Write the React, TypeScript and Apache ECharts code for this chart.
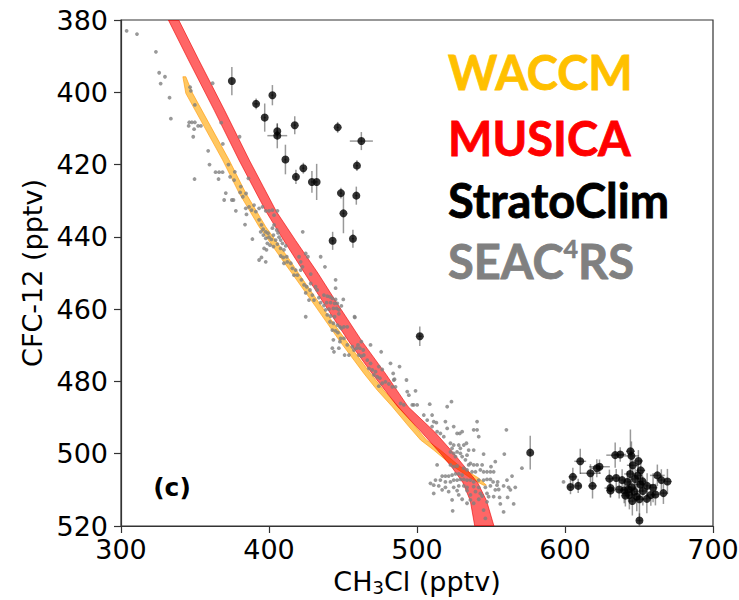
import React, { useEffect, useRef } from 'react';
import * as echarts from 'echarts';

// Axis ranges
const xMin = 300, xMax = 700, xStep = 100;
const yMin = 380, yMax = 520, yStep = 20;

// MUSICA band: CFC-12 levels with CH3Cl lower / upper edges
const musicaCFC = [380, 391, 405, 419, 426, 433, 441, 450, 459, 469, 478, 487, 494, 500, 504, 508, 513, 520];
const musicaLo = [332, 345.5, 363, 380, 389, 398, 410, 424, 438, 454, 470, 487, 503, 516, 524, 531, 536, 539];
const musicaHi = [339, 352.5, 370, 387, 396, 405, 418, 433, 447, 463, 479, 494, 512, 525, 533, 541, 547, 552];

// WACCM band
const waccmCFC = [395.7, 400.3, 409.5, 418.7, 427.9, 437.2, 446.4, 450.1, 459.3, 468.5, 477.8, 482.4, 487.0, 492.5, 496.2, 499.0, 503.6, 506.7, 508.7];
const waccmLo = [341.8, 343.8, 356.2, 368.6, 379.8, 393.3, 409.0, 415.5, 431.5, 447.2, 464.1, 473.1, 483.3, 494.5, 502.4, 511.3, 524.8, 536.1, 544.8];
const waccmHi = [343.8, 348.4, 360.7, 373.0, 384.3, 397.8, 414.0, 420.0, 435.6, 451.7, 468.6, 477.4, 487.5, 499.0, 506.4, 515.8, 529.3, 541.5, 546.9];

// StratoClim: [CH3Cl, CFC-12, CH3Cl error, CFC-12 error]
const stratoClim: number[][] = [
  [374.9, 396.9, 0, 3.9], [391.3, 403.2, 1.5, 1.5], [402.3, 400.8, 0.8, 2.8], [397.1, 407.0, 0.8, 3.9],
  [405.6, 410.8, 0.8, 2.0], [405.6, 412.0, 6.7, 3.5], [417.4, 409.1, 0.8, 2.5], [446.4, 409.7, 0.8, 1.5],
  [462.4, 413.5, 7.8, 2.5], [411.1, 418.6, 0.8, 4.1], [423.2, 421.0, 0.8, 1.5], [418.2, 423.4, 0.8, 2.0],
  [429.0, 424.8, 0.8, 3.0], [432.2, 424.8, 0.8, 5.0], [459.4, 420.3, 0.8, 1.5], [448.6, 427.9, 0.8, 1.5],
  [459.0, 428.6, 0.8, 2.5], [450.3, 433.5, 0.8, 5.5], [443.0, 441.1, 0.8, 2.5], [456.7, 440.5, 0.8, 2.5],
  [501.9, 467.5, 1.5, 2.7], [576.5, 499.7, 0.5, 4.7],
  [603.7, 509.2, 2, 2], [605.3, 506.4, 3, 2.5], [608.9, 508.9, 2, 2], [610.3, 502.1, 4, 3.5],
  [617.2, 505.4, 7, 2.5], [618.6, 508.9, 3, 3.5], [621.5, 504.0, 4, 2.5], [623.3, 503.6, 7, 2],
  [630.0, 506.9, 3, 2.5], [630.7, 509.5, 4, 2.5], [630.7, 510.2, 3, 2], [633.9, 500.4, 6, 3.5],
  [634.6, 506.7, 3, 2.5], [636.6, 509.9, 4, 2.5], [637.3, 500.2, 4, 2], [638.6, 507.3, 3, 3],
  [640.0, 510.2, 3, 3.5], [640.8, 511.6, 3, 3], [642.2, 507.8, 3, 3], [642.8, 509.9, 4, 3],
  [643.5, 511.4, 3, 4], [644.0, 505.6, 4, 3], [644.2, 499.3, 3, 6], [644.9, 500.6, 5, 4],
  [645.1, 509.3, 3, 3], [645.5, 513.1, 3, 4], [645.8, 503.2, 4, 3], [646.9, 510.5, 3, 2.5],
  [647.4, 507.0, 4, 3], [648.5, 511.9, 3, 4], [649.2, 506.0, 3, 3], [649.6, 502.0, 3, 3],
  [650.3, 512.6, 3, 5], [650.9, 508.5, 4, 3], [651.2, 504.6, 3, 3], [652.3, 507.6, 3, 3],
  [652.6, 510.3, 3, 4], [650.3, 518.5, 2, 2], [655.3, 512.5, 3, 4], [655.5, 508.9, 4, 3.5],
  [658.0, 511.4, 3, 3], [659.5, 509.4, 3, 4], [661.1, 511.3, 3, 3], [662.4, 506.0, 5, 3],
  [665.1, 507.3, 3, 3], [666.5, 510.9, 3, 3], [669.2, 507.7, 3, 3.5],
];

// SEAC4RS: [CH3Cl, CFC-12]
const seac4rs: number[][] = [
  [303.8, 383.0], [310.8, 383.9], [323.6, 388.8], [325.8, 394.6], [329.7, 395.7], [326.8, 397.6],
  [332.8, 401.5], [333.7, 407.3], [346.7, 398.6], [347.2, 399.6], [349.9, 403.5], [361.9, 397.5],
  [346.1, 408.3], [347.9, 408.3], [349.9, 408.3], [345.7, 409.3], [352.1, 409.3], [354.0, 409.3],
  [349.4, 410.2], [348.8, 412.3], [349.7, 424.0], [358.9, 416.2], [359.8, 420.0], [363.9, 422.1],
  [366.3, 422.1], [368.6, 422.1], [365.9, 424.0], [368.8, 414.3], [367.7, 408.4], [372.6, 420.0],
  [380.1, 412.3], [370.8, 427.9], [369.7, 429.8], [374.9, 429.8], [376.0, 429.8], [377.6, 432.8],
  [383.8, 436.6], [388.8, 440.6], [384.8, 433.8], [376.9, 422.0], [373.7, 423.4], [376.4, 424.3],
  [380.9, 426.1], [380.5, 427.7], [384.5, 428.0], [382.3, 428.9], [386.1, 423.8], [422.8, 438.6],
  [434.9, 445.5], [437.8, 448.3],
  [384.3, 432.1], [386.5, 431.7], [388.2, 432.6], [389.9, 431.2], [391.1, 433.0], [393.3, 432.1],
  [395.6, 431.7], [397.8, 432.8], [400.0, 432.8], [402.3, 432.6], [403.4, 434.0], [405.7, 432.8],
  [393.3, 435.3], [394.9, 436.7], [394.4, 438.6], [396.0, 437.9], [397.8, 438.6], [399.4, 439.0],
  [396.2, 439.5], [397.8, 440.4], [400.0, 440.1], [401.6, 440.7], [403.0, 439.5], [402.3, 437.6],
  [403.4, 436.7], [405.2, 438.1], [406.1, 438.9], [404.5, 440.9], [398.9, 441.8], [400.7, 442.3],
  [403.0, 442.7], [405.7, 442.0], [406.8, 440.1], [407.9, 440.9], [409.1, 441.8], [396.7, 443.2],
  [398.3, 443.6], [407.9, 443.2], [410.1, 443.6], [411.3, 442.5], [407.9, 445.3], [409.7, 445.7],
  [412.0, 445.5], [412.4, 446.9], [414.7, 447.3], [410.1, 447.3], [415.8, 448.7], [418.0, 449.2],
  [416.9, 450.6], [419.2, 450.6], [421.4, 449.2], [422.6, 448.3], [424.8, 444.6], [426.3, 445.5],
  [428.2, 450.3], [393.3, 446.4], [394.9, 445.7], [397.8, 446.9], [421.4, 446.9], [420.3, 445.5],
  [421.9, 451.9], [423.7, 453.3], [425.5, 453.8], [427.7, 454.7], [429.3, 456.1], [430.4, 457.5],
  [427.0, 457.5], [432.6, 454.7], [431.5, 453.8], [428.2, 452.9], [433.7, 456.8], [434.9, 458.2],
  [437.1, 459.0], [424.8, 455.5], [424.8, 462.1], [457.8, 462.1],
  [445.0, 454.2], [437.1, 456.1], [439.4, 456.4], [441.2, 456.6], [442.8, 457.0], [445.0, 457.3],
  [438.9, 458.2], [441.6, 458.2], [444.3, 458.4], [446.2, 458.4], [450.2, 457.3], [438.3, 460.2],
  [440.5, 460.0], [443.5, 459.8], [445.7, 459.8], [447.2, 460.2], [448.9, 459.1], [439.4, 461.6],
  [441.6, 461.9], [444.3, 462.1], [447.2, 461.3], [441.2, 463.5], [443.5, 463.9], [446.2, 464.4],
  [447.9, 464.9], [450.6, 464.9], [452.9, 464.9], [442.8, 465.8], [445.0, 466.0], [446.6, 466.5],
  [448.9, 465.3], [458.0, 462.3], [448.4, 468.1], [450.6, 468.1], [443.5, 468.5], [442.8, 470.8],
  [443.9, 471.8], [447.2, 470.8], [447.9, 469.0], [452.9, 469.9], [451.1, 472.7], [454.0, 472.7],
  [456.3, 470.4], [457.4, 471.3], [459.2, 470.8], [460.1, 469.9], [462.4, 469.0], [461.4, 470.8],
  [463.7, 471.3], [460.7, 472.7], [462.4, 473.0], [464.1, 472.7], [468.6, 469.9], [475.8, 471.8],
  [466.4, 474.1], [468.6, 475.0], [467.5, 476.4], [469.8, 476.8], [472.0, 477.3], [474.2, 475.9],
  [476.5, 476.7], [470.9, 478.2], [473.1, 478.7], [474.9, 479.1], [482.1, 475.0], [488.2, 475.9],
  [483.9, 477.8], [484.8, 479.4], [492.9, 479.6], [481.0, 480.7], [483.3, 481.5], [478.7, 480.1],
  [476.5, 480.5], [474.2, 481.3], [445.0, 451.9],
  [499.0, 482.6], [493.4, 482.8], [494.5, 483.8], [484.3, 479.6], [485.5, 481.5], [497.8, 486.5],
  [500.1, 486.5], [496.8, 486.5], [491.1, 486.5], [488.9, 486.1], [508.6, 486.3], [523.3, 485.6],
  [520.4, 487.0], [504.6, 489.3], [510.2, 489.3], [506.9, 490.7], [511.3, 491.1], [513.1, 491.4],
  [519.2, 491.1], [510.2, 492.5], [513.6, 493.9], [524.8, 492.5], [530.5, 493.9], [540.6, 491.1],
  [538.3, 493.4], [560.4, 493.4], [599.0, 507.8],
  [515.8, 494.4], [520.4, 493.0], [518.1, 495.3], [527.1, 494.4], [528.9, 494.4], [540.6, 493.4],
  [541.7, 495.3], [522.6, 497.1], [523.7, 498.5], [524.8, 497.6], [528.2, 497.6], [529.3, 498.5],
  [531.6, 497.6], [533.4, 497.1], [534.9, 499.0], [527.1, 499.5], [529.3, 499.9], [524.8, 499.9],
  [526.0, 500.8], [522.6, 499.5], [538.3, 499.0], [530.5, 500.8], [533.8, 500.4], [545.0, 500.1],
  [559.0, 500.1], [532.7, 501.7], [536.1, 502.7], [540.6, 503.1], [538.3, 503.1], [544.0, 503.1],
  [534.9, 503.1], [522.6, 503.1], [524.8, 503.6], [527.1, 503.4], [552.9, 502.2], [550.0, 503.6],
  [531.6, 504.0], [533.8, 504.5], [537.2, 505.0], [539.5, 505.0], [542.8, 504.5], [545.0, 505.0],
  [547.3, 505.0], [549.6, 505.0], [551.8, 505.0], [570.9, 504.0], [513.6, 503.1], [517.0, 506.2],
  [519.2, 506.2], [521.4, 506.2], [523.7, 505.9], [526.0, 505.6], [528.2, 505.6], [530.5, 505.9],
  [512.5, 507.3], [515.8, 507.3], [519.2, 507.8], [522.6, 507.8], [524.8, 507.3], [527.1, 507.3],
  [529.3, 507.1], [531.6, 507.1], [533.8, 507.3], [536.1, 507.3], [538.3, 507.8], [541.7, 507.3],
  [545.0, 507.3], [547.3, 507.1], [549.6, 507.1], [551.4, 507.8], [554.5, 507.8], [560.8, 507.3],
  [564.2, 506.2], [509.1, 508.2], [511.3, 508.7], [514.7, 508.9], [519.2, 509.3], [524.8, 509.3],
  [528.2, 508.9], [531.6, 508.9], [533.8, 509.3], [538.3, 509.1], [541.7, 509.3], [546.2, 509.3],
  [549.6, 508.9], [554.1, 508.7], [558.5, 508.9], [561.9, 509.3], [566.4, 509.3], [511.3, 511.0],
  [517.0, 510.0], [521.4, 510.5], [527.1, 510.2], [533.8, 510.2], [539.5, 510.5], [542.8, 511.0],
  [547.3, 511.0], [552.9, 510.0], [555.2, 509.9], [563.1, 510.0], [536.1, 511.4], [528.2, 511.4],
  [544.0, 511.7], [548.4, 511.9], [551.8, 511.9], [555.8, 512.1], [561.2, 512.1], [523.7, 512.8],
  [530.5, 512.6], [536.1, 512.8], [541.7, 512.6], [547.3, 513.3], [556.3, 513.9], [565.3, 513.9],
  [538.3, 513.7], [524.1, 515.8], [545.0, 515.6], [558.5, 516.1], [546.2, 517.9], [533.8, 513.7],
];

const legendLabels = ['WACCM', 'MUSICA', 'StratoClim', 'SEAC4RS'];
const panelLabel = '(c)';
const yTitle = 'CFC-12 (pptv)';

const AXIS_FONT = 'DejaVu Sans';
const LEGEND_FONT = 'Lato';

function bandSeries(name: string, ys: number[], lo: number[], hi: number[], fill: string, stroke: string, z: number) {
  return {
    type: 'custom',
    name,
    z,
    clip: true,
    silent: true,
    data: [[lo[0], ys[0]]],
    encode: { x: 0, y: 1 },
    renderItem: (_params: any, api: any) => {
      const pts: number[][] = [];
      for (let i = 0; i < ys.length; i++) pts.push(api.coord([lo[i], ys[i]]));
      for (let i = ys.length - 1; i >= 0; i--) pts.push(api.coord([hi[i], ys[i]]));
      return { type: 'polygon', shape: { points: pts }, style: { fill, stroke, lineWidth: 1 } };
    },
  };
}

export default function App() {
  const ref = useRef<HTMLDivElement>(null);
  useEffect(() => {
    document.body.style.margin = '0';
    if (!ref.current) return;
    const chart = echarts.init(ref.current, undefined, { renderer: 'svg' });
    const legendColors = ['#FFC000', '#FF0000', '#000000', '#808080'];
    const legendY = [72, 138, 200, 261];
    const legendBase = { fontSize: 47, fontWeight: 'bold', fontFamily: LEGEND_FONT };
    const legendGraphics = legendLabels.map((lab, i) => {
      if (lab === 'SEAC4RS') {
        return {
          type: 'text', x: 448, y: legendY[i], z: 10,
          style: {
            text: '{a|SEAC}{s|4}{a|RS}',
            align: 'left', verticalAlign: 'middle',
            rich: {
              a: { ...legendBase, fill: legendColors[i], stroke: legendColors[i], lineWidth: 0.8, lineHeight: 52 },
              s: { fontSize: 25, fontWeight: 'bold', fontFamily: LEGEND_FONT, fill: legendColors[i], stroke: legendColors[i], lineWidth: 0.6, lineHeight: 36, verticalAlign: 'top' },
            },
          },
        };
      }
      return {
        type: 'text', x: 448, y: legendY[i], z: 10,
        style: { text: lab, ...legendBase, fill: legendColors[i], stroke: legendColors[i], lineWidth: 0.8, align: 'left', verticalAlign: 'middle' },
      };
    });

    const option: any = {
      animation: false,
      backgroundColor: '#ffffff',
      grid: {
        left: 121, right: 26, top: 20, bottom: 74,
        containLabel: false, outerBoundsMode: 'none',
        show: true, borderColor: '#333', borderWidth: 1.2, backgroundColor: 'transparent',
      },
      xAxis: {
        type: 'value', min: xMin, max: xMax, interval: xStep,
        name: '{a|CH}{s|3}{a|Cl (pptv)}',
        nameLocation: 'middle', nameGap: 41,
        nameTextStyle: {
          rich: {
            a: { fontSize: 27, fontFamily: AXIS_FONT, color: '#000', lineHeight: 29 },
            s: { fontSize: 18, fontFamily: AXIS_FONT, color: '#000', lineHeight: 16, verticalAlign: 'bottom' },
          },
        },
        axisLine: { show: true, lineStyle: { color: '#333', width: 1.2 } },
        axisTick: { show: true, length: 7, lineStyle: { color: '#333', width: 1.2 } },
        axisLabel: { fontSize: 27, fontFamily: AXIS_FONT, color: '#000', margin: 10 },
        splitLine: { show: false },
      },
      yAxis: {
        type: 'value', min: yMin, max: yMax, interval: yStep, inverse: true,
        name: yTitle, nameLocation: 'middle', nameGap: 70,
        nameTextStyle: { fontSize: 27, fontFamily: AXIS_FONT, color: '#000' },
        axisLine: { show: true, lineStyle: { color: '#333', width: 1.2 } },
        axisTick: { show: true, length: 7, lineStyle: { color: '#333', width: 1.2 } },
        axisLabel: { fontSize: 27, fontFamily: AXIS_FONT, color: '#000', margin: 13 },
        splitLine: { show: false },
      },
      graphic: [
        ...legendGraphics,
        {
          type: 'text', x: 172, y: 487, z: 10,
          style: { text: panelLabel, fontSize: 25, fontWeight: 'bold', fontFamily: AXIS_FONT, fill: '#000', align: 'center', verticalAlign: 'middle' },
        },
      ],
      series: [
        bandSeries('WACCM', waccmCFC, waccmLo, waccmHi, 'rgba(255,165,0,0.62)', 'rgba(255,150,0,0.6)', 1),
        bandSeries('MUSICA', musicaCFC, musicaLo, musicaHi, 'rgba(255,0,0,0.6)', 'rgba(235,0,0,0.6)', 2),
        {
          type: 'scatter', name: 'SEAC4RS', z: 3, silent: true,
          data: seac4rs, symbol: 'circle', symbolSize: 3.8,
          itemStyle: { color: '#7f7f7f' },
        },
        {
          type: 'custom', name: 'StratoClim errors', z: 4, silent: true, clip: true,
          data: stratoClim, encode: { x: 0, y: 1 },
          renderItem: (_p: any, api: any) => {
            const x = api.value(0), y = api.value(1), ex = api.value(2), ey = api.value(3);
            const a = api.coord([x, y - ey]);
            const b = api.coord([x, y + ey]);
            const c = api.coord([x - ex, y]);
            const d = api.coord([x + ex, y]);
            const st = { stroke: 'rgba(0,0,0,0.4)', lineWidth: 1.5 };
            return {
              type: 'group',
              children: [
                { type: 'line', shape: { x1: a[0], y1: a[1], x2: b[0], y2: b[1] }, style: st },
                { type: 'line', shape: { x1: c[0], y1: c[1], x2: d[0], y2: d[1] }, style: st },
              ],
            };
          },
        },
        {
          type: 'scatter', name: 'StratoClim', z: 5, silent: true,
          data: stratoClim.map((r) => [r[0], r[1]]), symbol: 'circle', symbolSize: 8,
          itemStyle: { color: '#000' },
        },
      ],
    };
    chart.setOption(option);
    return () => chart.dispose();
  }, []);
  return <div ref={ref} style={{ width: 739, height: 600 }} />;
}
